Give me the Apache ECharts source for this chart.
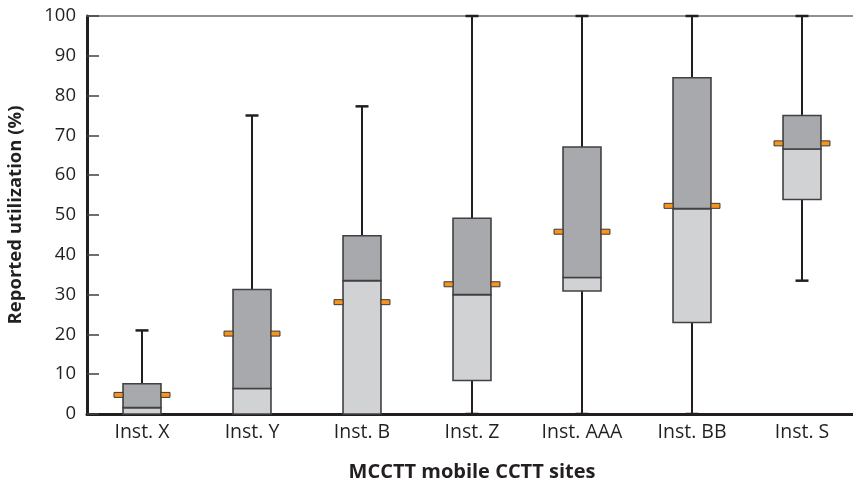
<!DOCTYPE html>
<html>
<head>
<meta charset="utf-8">
<script src="https://cdn.jsdelivr.net/npm/echarts@6/dist/echarts.min.js"></script>
<style>
  html, body { margin: 0; padding: 0; background: #fff; }
  #chart { width: 853px; height: 485px; }
</style>
</head>
<body>
<div id="chart"></div>
<script>
// Reported utilization by site: whiskers, quartiles, median and mean
const categories = ['Inst. X', 'Inst. Y', 'Inst. B', 'Inst. Z', 'Inst. AAA', 'Inst. BB', 'Inst. S'];
const whiskerLow  = [0,    0,    0,    0,    0,    0,    33.5];
const q1          = [0,    0,    0,    8.4,  30.9, 23.0, 53.9];
const median      = [1.6,  6.4,  33.5, 30.0, 34.3, 51.6, 66.6];
const q3          = [7.6,  31.3, 44.8, 49.2, 67.1, 84.5, 75.0];
const whiskerHigh = [21,   75,   77.3, 100,  100,  100,  100];
const mean        = [4.8,  20.2, 28.1, 32.6, 45.8, 52.3, 68.0];
const yTicks = [0, 10, 20, 30, 40, 50, 60, 70, 80, 90, 100];

const FONT = '"Open Sans", "Noto Sans", sans-serif';
const INK = '#231f20';
const EDGE = '#414042';

const rows = categories.map((c, i) =>
  [i, whiskerLow[i], q1[i], median[i], q3[i], whiskerHigh[i], mean[i]]);

function renderBox(params, api) {
  const i = api.value(0);
  const band = api.size([1, 0])[0];
  const bw = band * 0.345;
  const capW = 13;
  const mW = 9, mH = 5;
  const pLow = api.coord([i, api.value(1)]);
  const pQ1 = api.coord([i, api.value(2)]);
  const pMed = api.coord([i, api.value(3)]);
  const pQ3 = api.coord([i, api.value(4)]);
  const pHigh = api.coord([i, api.value(5)]);
  const pMean = api.coord([i, api.value(6)]);
  const cx = pMed[0];
  const left = cx - bw / 2;
  const children = [];

  children.push({
    type: 'line',
    shape: { x1: cx, y1: pLow[1], x2: cx, y2: pHigh[1] },
    style: { stroke: INK, lineWidth: 2 }
  });
  [pLow[1], pHigh[1]].forEach(y => children.push({
    type: 'line',
    shape: { x1: cx - capW / 2, y1: y, x2: cx + capW / 2, y2: y },
    style: { stroke: INK, lineWidth: 2.5 }
  }));
  // lower half (Q1 to median)
  children.push({
    type: 'rect',
    shape: { x: left, y: pMed[1], width: bw, height: pQ1[1] - pMed[1] },
    style: { fill: '#d1d2d4', stroke: EDGE, lineWidth: 1.6 }
  });
  // upper half (median to Q3)
  children.push({
    type: 'rect',
    shape: { x: left, y: pQ3[1], width: bw, height: pMed[1] - pQ3[1] },
    style: { fill: '#a7a9ac', stroke: EDGE, lineWidth: 1.6 }
  });
  // mean markers on both sides of the box
  [left - mW, left + bw].forEach(x => children.push({
    type: 'rect',
    shape: { x: x, y: pMean[1] - mH / 2, width: mW, height: mH },
    style: { fill: '#f7941d', stroke: '#3a3a3a', lineWidth: 1 }
  }));
  return { type: 'group', children: children };
}

const chart = echarts.init(document.getElementById('chart'), null, { renderer: 'canvas' });
chart.setOption({
  animation: false,
  backgroundColor: '#fff',
  grid: {
    left: 87, right: -4, top: 16, bottom: 71,
    containLabel: false,
    outerBoundsMode: 'none'
  },
  xAxis: [{
    type: 'category',
    data: categories,
    boundaryGap: true,
    axisLine: { lineStyle: { color: INK, width: 3 } },
    axisTick: { inside: true, length: 11, lineStyle: { color: INK, width: 1.5 } },
    axisLabel: { color: INK, fontSize: 19.5, fontFamily: FONT, margin: 8 },
    name: 'MCCTT mobile CCTT sites',
    nameLocation: 'middle',
    nameGap: 48,
    nameTextStyle: { color: INK, fontSize: 20, fontWeight: 'bold', fontFamily: FONT }
  }, {
    type: 'category',
    data: categories,
    position: 'top',
    axisLine: { lineStyle: { color: '#6d6e71', width: 1.5 } },
    axisTick: { show: false },
    axisLabel: { show: false }
  }],
  yAxis: {
    type: 'value',
    min: yTicks[0],
    max: yTicks[yTicks.length - 1],
    interval: 10,
    axisLine: { show: true, lineStyle: { color: INK, width: 3 } },
    axisTick: { show: true, inside: true, length: 12, lineStyle: { color: EDGE, width: 1.5 } },
    axisLabel: { color: INK, fontSize: 18.5, fontFamily: FONT, margin: 11 },
    splitLine: { show: false },
    name: 'Reported utilization (%)',
    nameLocation: 'middle',
    nameRotate: 90,
    nameGap: 62,
    nameTextStyle: { color: INK, fontSize: 18.5, fontWeight: 'bold', fontFamily: FONT }
  },
  series: [{
    type: 'custom',
    clip: false,
    renderItem: renderBox,
    encode: { x: 0, y: [1, 2, 3, 4, 5, 6] },
    data: rows,
    z: 3
  }]
});
</script>
</body>
</html>
